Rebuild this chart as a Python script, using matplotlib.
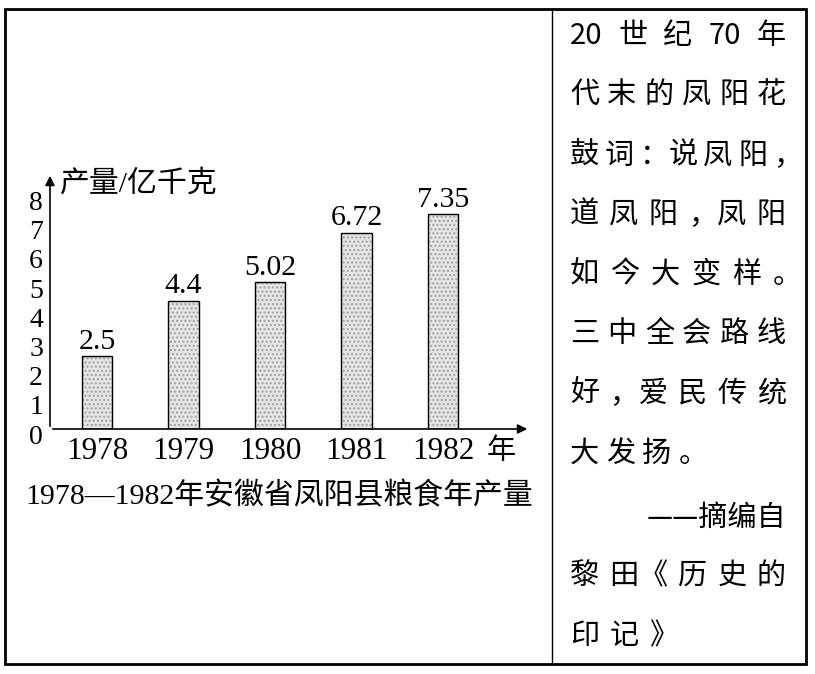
import matplotlib
matplotlib.use("Agg")
import matplotlib.pyplot as plt
from matplotlib.transforms import ScaledTranslation

years = ["1978", "1979", "1980", "1981", "1982"]
output = [2.5, 4.4, 5.02, 6.72, 7.35]
yticks = [0, 1, 2, 3, 4, 5, 6, 7, 8]
ylabel = "产量/亿千克"
xunit = "年"
caption = "1978—1982年安徽省凤阳县粮食年产量"

# right side text, one list of tokens per line
poem = [
    ["20", "世", "纪", "70", "年"],
    ["代", "末", "的", "凤", "阳", "花"],
    ["鼓", "词", "：", "说", "凤", "阳", "，"],
    ["道", "凤", "阳", "，", "凤", "阳"],
    ["如", "今", "大", "变", "样", "。"],
    ["三", "中", "全", "会", "路", "线"],
    ["好", "，", "爱", "民", "传", "统"],
    ["大", "发", "扬", "。"],
]
source = ["——摘编自", ["黎", "田", "《", "历", "史", "的"], ["印", "记", "》"]]

serif = ["Liberation Serif", "Noto Sans CJK SC"]
cjk = ["Noto Sans CJK SC", "DejaVu Sans"]

W, H = 815, 674
fig = plt.figure(figsize=(W / 100, H / 100), dpi=100)
fig.patch.set_facecolor("white")

# full-figure axes in pixel coords for frame and text
bg = fig.add_axes([0, 0, 1, 1])
bg.set_xlim(0, W)
bg.set_ylim(H, 0)
bg.axis("off")
bg.add_patch(plt.Rectangle((5, 9), 801, 655, fill=False, lw=2.0, ec="black"))
bg.plot([552, 552], [9, 664], color="black", lw=1.0)

# chart axes: origin at (50, 429) px
unit = 29.2
top = (429 - 173) / unit
px = 86.5
ax = fig.add_axes([50 / W, (H - 429) / H, 480 / W, 256 / H])
ax.set_xlim(-47 / px, 433 / px)
ax.set_ylim(0, top)
ax.patch.set_alpha(0)
for s in ax.spines.values():
    s.set_visible(False)

x = list(range(len(years)))
ax.bar(x, output, width=0.35, color="#e4e4e4", edgecolor="#a0a0a0", hatch="....", lw=0)
ax.bar(x, output, width=0.35, fill=False, edgecolor="black", lw=1.0)
for xi, v in zip(x, output):
    ax.annotate(str(v), (xi, v), xytext=(0, 1), textcoords="offset points",
                ha="center", va="bottom", fontsize=21.5, family=serif)

ax.annotate("", xy=(1, 0), xytext=(0, 0), xycoords="axes fraction",
            arrowprops=dict(arrowstyle="-|>", color="black", lw=1.2, mutation_scale=14))
ax.annotate("", xy=(0, 1), xytext=(0, 0), xycoords="axes fraction",
            arrowprops=dict(arrowstyle="-|>", color="black", lw=1.2, mutation_scale=14))

ax.set_xticks(x)
ax.set_xticklabels(years, fontsize=22.5, family=serif)
ax.set_yticks(yticks)
ax.set_yticklabels([str(t) for t in yticks], fontsize=20, family=serif)
ax.tick_params(length=0)
ax.tick_params(axis="x", pad=6)
ax.tick_params(axis="y", pad=5)
shift = ScaledTranslation(0, -5 / 100, fig.dpi_scale_trans)
for lab in ax.get_yticklabels():
    lab.set_transform(lab.get_transform() + shift)

bg.text(60, 184, ylabel, ha="left", va="center", fontsize=21.5, family=serif)
bg.text(487, 452, xunit, ha="left", va="center", fontsize=21, family=serif)
bg.text(279, 496, caption, ha="center", va="center", fontsize=21.5, family=serif)

# right panel text
fs = 21
em = fs * 100 / 72
x0, x1 = 570, 786
close_p = {"：", "，", "。", "》"}
open_p = {"《"}


def put_line(tokens, y, justify=True, gap=10):
    widths = [1.1 * em if t.isascii() else em for t in tokens]
    # no gap after a closing mark or before an opening one
    use_gap = [0 if (a in close_p or b in open_p) else 1
               for a, b in zip(tokens[:-1], tokens[1:])]
    if justify:
        right = x1 - 0.45 * em + em if tokens[-1] in close_p else x1
        gap = (right - x0 - sum(widths)) / sum(use_gap)
    pos = x0
    for i, (t, w) in enumerate(zip(tokens, widths)):
        bg.text(pos, y, t, ha="left", va="center", fontsize=fs, family=cjk)
        if i < len(use_gap):
            pos += w + gap * use_gap[i]


rows = [36, 95, 156, 215, 275, 334, 394, 454]
for tokens, y in zip(poem, rows):
    put_line(tokens, y, justify=len(tokens) >= 5, gap=7)

bg.text(x1, 518, source[0], ha="right", va="center", fontsize=fs, family=cjk)
put_line(source[1], 576)
put_line(source[2], 636, justify=False, gap=11)

fig.savefig("out.png", dpi=100)
